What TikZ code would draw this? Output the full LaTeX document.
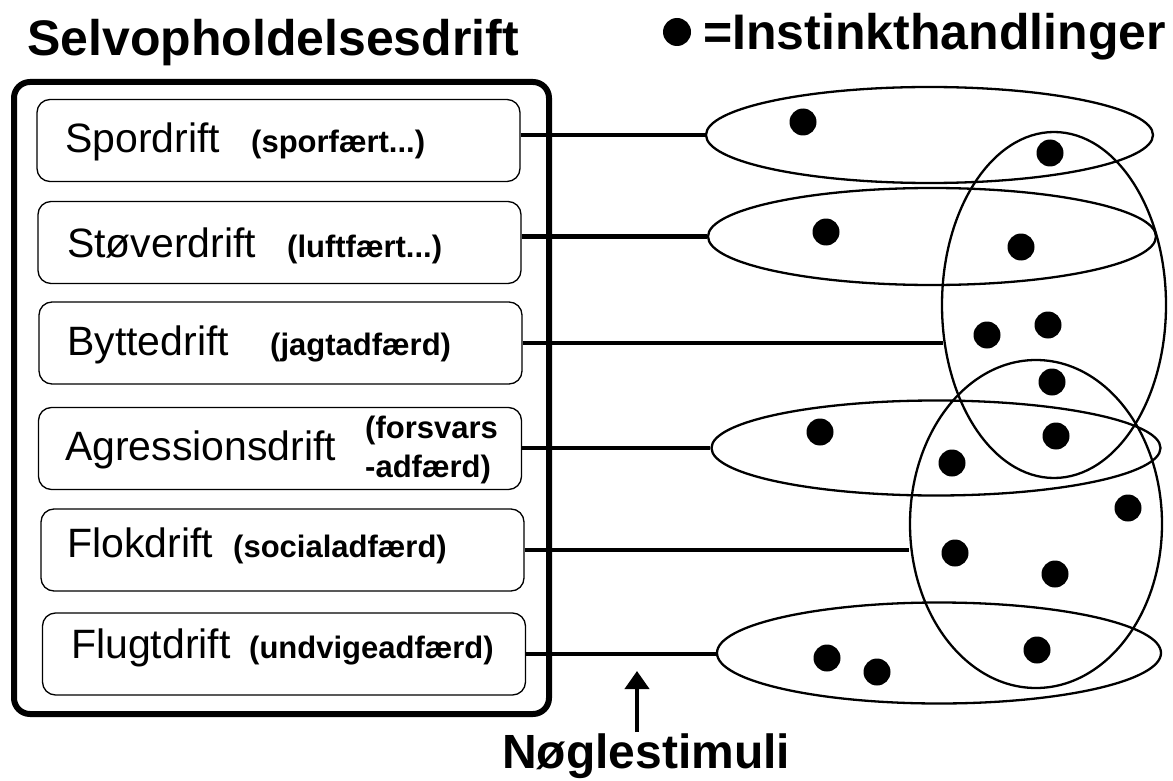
\documentclass[tikz,border=0pt]{standalone}
\usepackage{fontspec}
\setmainfont{Liberation Sans}
\usetikzlibrary{shapes.geometric,arrows.meta}
\begin{document}
\begin{tikzpicture}[x=1pt,y=-1pt,
  outerbox/.style={draw, line width=6pt, rounded corners=16pt, inner sep=0pt},
  drivebox/.style={draw, line width=1.3pt, rounded corners=13pt, minimum width=483pt, minimum height=82pt, inner sep=0pt},
  mainlbl/.style={anchor=base west, inner sep=0pt, font=\fontsize{41}{48}\selectfont},
  sublbl/.style={anchor=base west, inner sep=0pt, font=\bfseries\fontsize{31}{36}\selectfont},
  biglbl/.style={anchor=base west, inner sep=0pt, font=\bfseries\fontsize{50}{60}\selectfont},
  link/.style={line width=4.5pt},
  grp/.style={draw, ellipse, line width=2.3pt, inner sep=0pt},
  act/.style={circle, fill=black, minimum size=27pt, inner sep=0pt},
]
\useasboundingbox (0,0) rectangle (1173,781);

% titles
\node[biglbl] (title) at (27,56) {Selvopholdelsesdrift};
\node[act, minimum size=28pt] (ldot) at (677,32) {};
\node[biglbl] (legend) at (703,50) {=Instinkthandlinger};

% outer box
\node[outerbox, minimum width=535pt, minimum height=632pt] (outer) at (281.5,398) {};

% drive boxes
\node[drivebox] (sp) at (278.5,140.5) {};
\node[drivebox] (st) at (279.5,242.5) {};
\node[drivebox] (by) at (280.5,343) {};
\node[drivebox] (ag) at (280,448.5) {};
\node[drivebox] (fl) at (282.5,550) {};
\node[drivebox] (fg) at (284,654) {};

\node[mainlbl] (spt) at (65,153) {Spordrift};
\node[sublbl] (sps) at (251,153) {(sporfært...)};
\node[mainlbl] (stt) at (67,257) {Støverdrift};
\node[sublbl] (sts) at (287,257) {(luftfært...)};
\node[mainlbl] (byt) at (67,355) {Byttedrift};
\node[sublbl] (bys) at (270,355) {(jagtadfærd)};
\node[mainlbl] (agt) at (65,460) {Agressionsdrift};
\node[sublbl] (ags1) at (365,438) {(forsvars};
\node[sublbl] (ags2) at (365,477) {-adfærd)};
\node[mainlbl] (flt) at (67,557) {Flokdrift};
\node[sublbl] (fls) at (233,557) {(socialadfærd)};
\node[mainlbl] (fgt) at (71,658) {Flugtdrift};
\node[sublbl] (fgs) at (249,658) {(undvigeadfærd)};

% groups of instinct actions
\node[grp, minimum width=447pt, minimum height=96pt] (E1) at (929.5,135) {};
\node[grp, minimum width=448pt, minimum height=97pt] (E2) at (932,236.5) {};
\node[grp, minimum width=449pt, minimum height=95pt] (E3) at (936,448) {};
\node[grp, minimum width=444pt, minimum height=101pt] (E4) at (939,653) {};
\node[grp, minimum width=224pt, minimum height=346pt] (V1) at (1054,305) {};
\node[grp, minimum width=252pt, minimum height=328pt] (V2) at (1036,524) {};

% connectors
\draw[link] (E1.west -| sp.east) -- (E1.west);
\draw[link] (E2.west -| st.east) -- (E2.west);
\draw[link] (by.east) -- ([xshift=2pt]by.east -| V1.west);
\draw[link] (E3.west -| ag.east) -- (E3.west);
\draw[link] (fl.east) -- (fl.east -| V2.west);
\draw[link] (fg.east) -- (fg.east -| E4.west);

% instinct actions
\node[act] (d1) at (803,122) {};
\node[act] (d2) at (1050,153) {};
\node[act] (d3) at (826,232) {};
\node[act] (d4) at (1021,247) {};
\node[act] (d5) at (987,335) {};
\node[act] (d6) at (1048,325) {};
\node[act] (d7) at (1052,382) {};
\node[act] (d8) at (820,432) {};
\node[act] (d9) at (1056,436) {};
\node[act] (d10) at (952,463) {};
\node[act] (d11) at (1128,508) {};
\node[act] (d12) at (955,553) {};
\node[act] (d13) at (1055,574) {};
\node[act] (d14) at (1037,650) {};
\node[act] (d15) at (827,658) {};
\node[act] (d16) at (877,672) {};

% key stimuli
\node[anchor=base west, inner sep=0pt, font=\bfseries\fontsize{48}{58}\selectfont] (key) at (502,768) {Nøglestimuli};
\coordinate (abase) at (637,732);
\coordinate (atip) at (637,671);
\draw[line width=4pt, -{Triangle[width=24pt,length=18pt]}] (abase) -- (atip);
\end{tikzpicture}
\end{document}
